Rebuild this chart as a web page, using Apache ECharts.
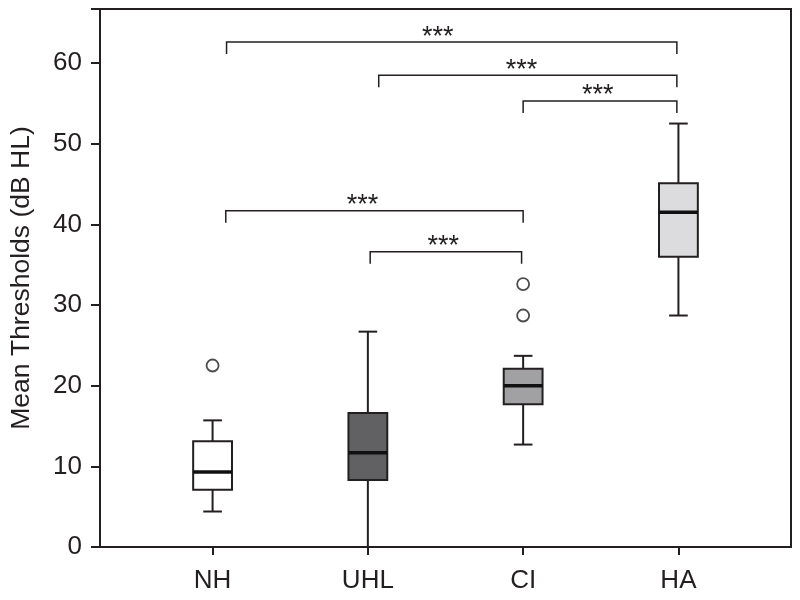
<!DOCTYPE html>
<html>
<head>
<meta charset="utf-8">
<script src="https://cdn.jsdelivr.net/npm/echarts@6/dist/echarts.min.js"></script>
<style>html,body{margin:0;padding:0;background:#fff;}#c{width:800px;height:600px;}</style>
</head>
<body>
<div id="c"></div>
<script>
// ---- data ----
var categories = ['NH', 'UHL', 'CI', 'HA'];
var groupX = [1, 2, 3, 4];
var lowerWhisker = [4.4, 0, 12.7, 28.7];
var q1 = [7.1, 8.3, 17.7, 36.0];
var median = [9.3, 11.7, 20.0, 41.5];
var q3 = [13.1, 16.6, 22.1, 45.1];
var upperWhisker = [15.7, 26.7, 23.7, 52.5];
var outlierX = [1, 3, 3];
var outlierY = [22.5, 28.7, 32.6];
// significance brackets: from x, to x, level, star label x
var bracketFrom = [1.09, 2.07, 3.0, 1.085, 2.015];
var bracketTo = [3.99, 3.99, 3.99, 3.0, 2.99];
var bracketLevel = [62.6, 58.5, 55.3, 41.7, 36.6];
var starX = [2.45, 2.99, 3.48, 1.965, 2.485];
var starText = ['***', '***', '***', '***', '***'];
var yTicks = [0, 10, 20, 30, 40, 50, 60];

// ---- styles ----
var fills = ['#ffffff', '#616163', '#a1a1a4', '#dcdcde'];
var ink = '#231f20';
var font = 'Liberation Sans, Arial, Helvetica, sans-serif';

var boxData = groupX.map(function (x, i) {
  return [x, lowerWhisker[i], q1[i], median[i], q3[i], upperWhisker[i], i];
});
var outlierData = outlierX.map(function (x, i) { return [x, outlierY[i]]; });
var bracketData = bracketFrom.map(function (f, i) { return [f, bracketTo[i], bracketLevel[i], starX[i], i]; });

var chart = echarts.init(document.getElementById('c'));
chart.setOption({
  animation: false,
  backgroundColor: '#ffffff',
  grid: { left: 100, right: 9, top: 9, bottom: 53, show: true, borderColor: ink, borderWidth: 2, backgroundColor: 'transparent' },
  xAxis: {
    type: 'value', min: 0.275, max: 4.725,
    splitLine: { show: false },
    axisLine: { lineStyle: { color: ink, width: 2 } },
    axisTick: { show: true, customValues: groupX, length: 8, lineStyle: { color: ink, width: 2 } },
    axisLabel: {
      customValues: groupX,
      formatter: function (v) { var i = groupX.indexOf(Math.round(v)); return i >= 0 ? categories[i] : ''; },
      fontSize: 26, color: ink, fontFamily: font, margin: 21
    }
  },
  yAxis: {
    type: 'value', min: 0, max: 66.7, interval: 10,
    name: 'Mean Thresholds (dB HL)', nameLocation: 'middle', nameGap: 65,
    nameTextStyle: { fontSize: 26.5, color: ink, fontFamily: font },
    splitLine: { show: false },
    axisLine: { show: true, lineStyle: { color: ink, width: 2 } },
    axisTick: { show: true, length: 9, lineStyle: { color: ink, width: 2 } },
    axisLabel: {
      fontSize: 26, color: ink, fontFamily: font, margin: 18,
      formatter: function (v) { return yTicks.indexOf(v) >= 0 ? String(v) : ''; }
    }
  },
  series: [
    {
      type: 'custom',
      data: boxData,
      encode: { x: 0, y: [1, 2, 3, 4, 5] },
      z: 3,
      renderItem: function (params, api) {
        var x = api.value(0);
        var idx = api.value(6);
        var pLow = api.coord([x, api.value(1)]);
        var pQ1 = api.coord([x, api.value(2)]);
        var pMed = api.coord([x, api.value(3)]);
        var pQ3 = api.coord([x, api.value(4)]);
        var pUp = api.coord([x, api.value(5)]);
        var bw = api.size([0.25, 0])[0];
        var cw = api.size([0.12, 0])[0];
        var cx = pQ1[0];
        var ls = { stroke: ink, lineWidth: 2 };
        return {
          type: 'group',
          children: [
            { type: 'line', shape: { x1: cx, y1: pLow[1], x2: cx, y2: pQ1[1] }, style: ls },
            { type: 'line', shape: { x1: cx, y1: pQ3[1], x2: cx, y2: pUp[1] }, style: ls },
            { type: 'line', shape: { x1: cx - cw / 2, y1: pLow[1], x2: cx + cw / 2, y2: pLow[1] }, style: ls },
            { type: 'line', shape: { x1: cx - cw / 2, y1: pUp[1], x2: cx + cw / 2, y2: pUp[1] }, style: ls },
            { type: 'rect', shape: { x: cx - bw / 2, y: pQ3[1], width: bw, height: pQ1[1] - pQ3[1] },
              style: { fill: fills[idx], stroke: ink, lineWidth: 2 } },
            { type: 'line', shape: { x1: cx - bw / 2, y1: pMed[1], x2: cx + bw / 2, y2: pMed[1] },
              style: { stroke: '#111', lineWidth: 3.5 } }
          ]
        };
      }
    },
    {
      type: 'scatter',
      data: outlierData,
      symbol: 'circle',
      symbolSize: 12,
      z: 4,
      itemStyle: { color: '#ffffff', borderColor: ink, borderWidth: 1.8 }
    },
    {
      type: 'custom',
      data: bracketData,
      encode: { x: [0, 1], y: 2 },
      z: 5,
      renderItem: function (params, api) {
        var i = api.value(4);
        var a = api.coord([api.value(0), api.value(2)]);
        var b = api.coord([api.value(1), api.value(2)]);
        var s = api.coord([api.value(3), api.value(2)]);
        var drop = 12;
        return {
          type: 'group',
          children: [
            { type: 'polyline', shape: { points: [[a[0], a[1] + drop], [a[0], a[1]], [b[0], b[1]], [b[0], b[1] + drop]] },
              style: { stroke: ink, lineWidth: 1.5, fill: null } },
            { type: 'text', x: s[0], y: a[1] - 5,
              style: { text: starText[i], fontSize: 27, fontFamily: font, fill: ink, align: 'center', verticalAlign: 'middle' } }
          ]
        };
      }
    }
  ]
});
</script>
</body>
</html>
